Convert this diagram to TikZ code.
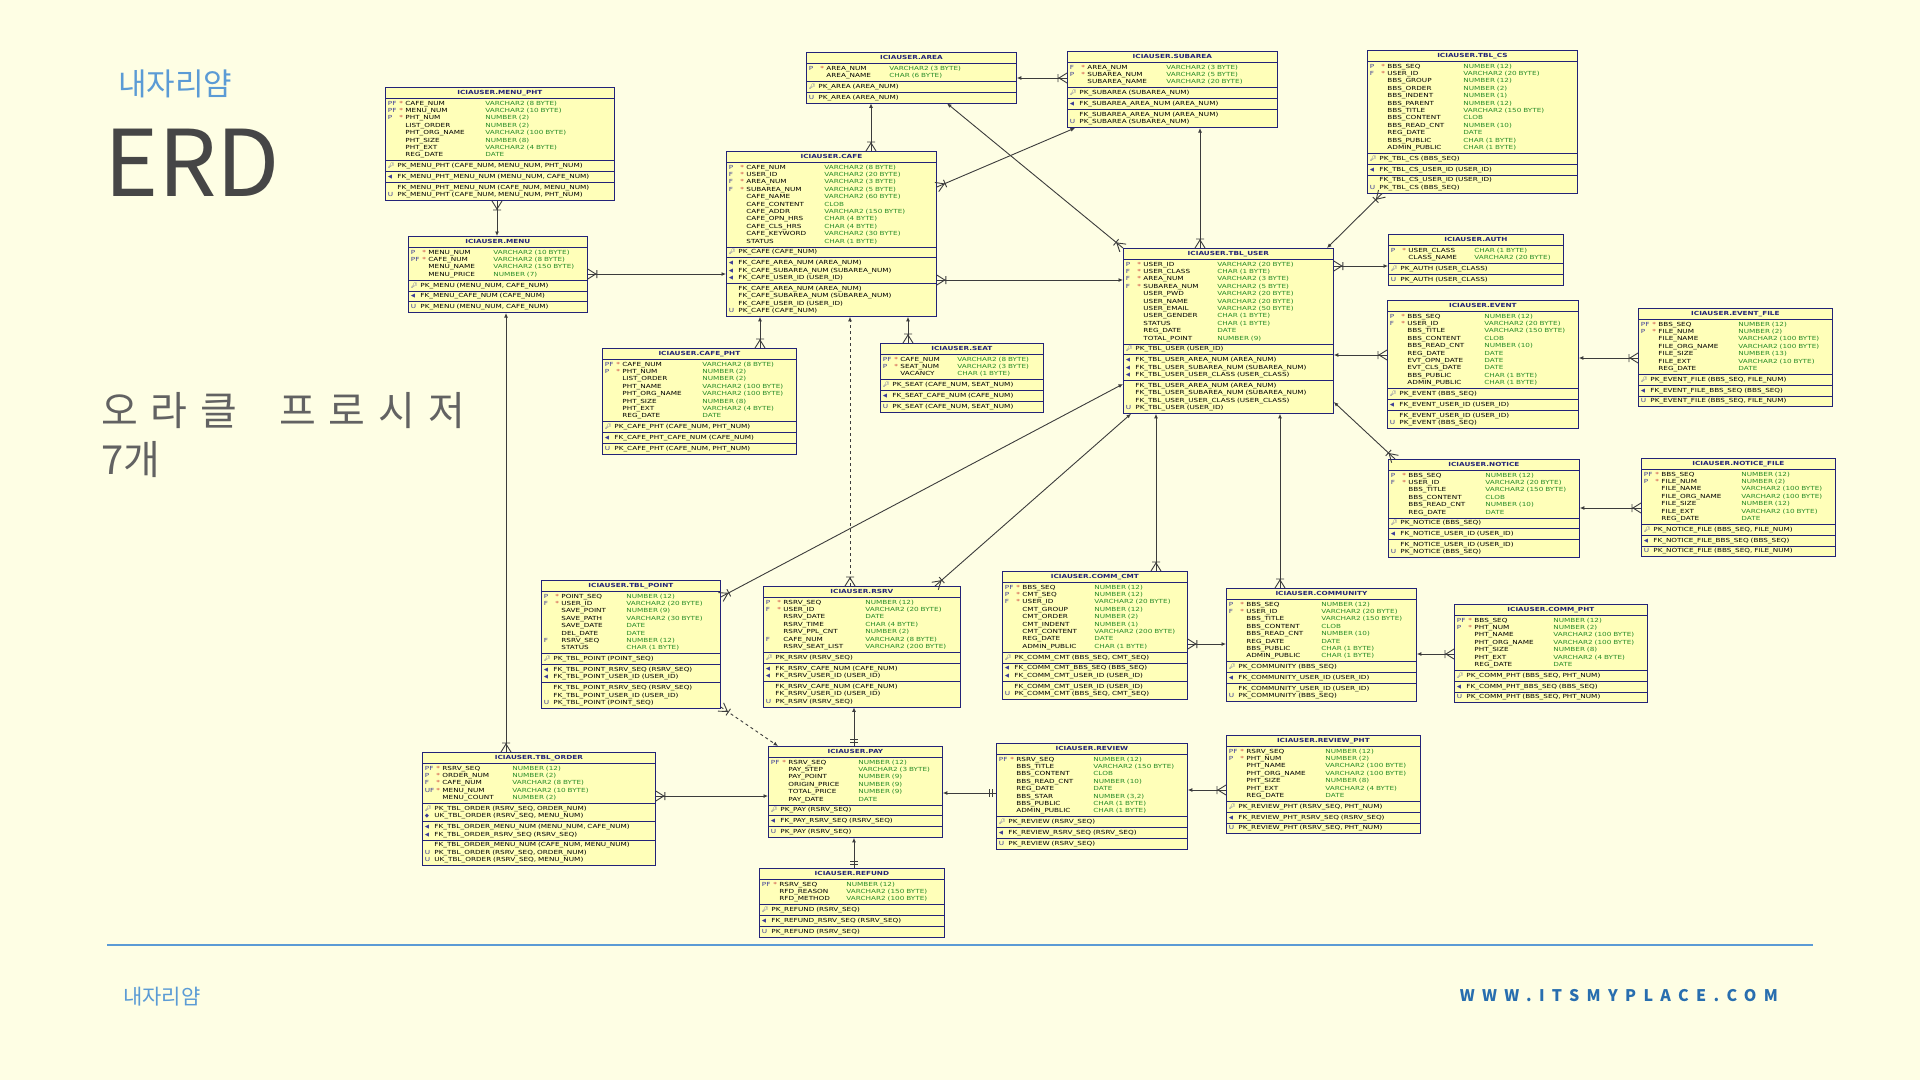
\documentclass[tikz,border=0pt]{standalone}
\usepackage{fontspec}
\newfontfamily\erdfont[FakeStretch=1.3]{DejaVu Sans}
\newfontfamily\kofont{Noto Sans CJK KR}
\newfontfamily\kospaced[LetterSpace=32]{Noto Sans CJK KR}
\newfontfamily\urlfont[LetterSpace=46]{Noto Sans CJK KR}
\newfontfamily\emojifont{Noto Emoji}
\newfontfamily\symfont{DejaVu Sans}
\usetikzlibrary{arrows.meta,calc,shapes.multipart}
\setlength\parindent{0pt}

\definecolor{pagebg}{RGB}{254,254,228}
\definecolor{tblfill}{RGB}{255,255,185}
\definecolor{tbledge}{RGB}{35,35,120}
\definecolor{typegreen}{RGB}{40,140,40}
\definecolor{keyblue}{RGB}{60,60,150}
\definecolor{starred}{RGB}{200,50,50}
\definecolor{brandblue}{RGB}{91,155,213}
\definecolor{urlblue}{RGB}{40,110,175}
\definecolor{headgray}{RGB}{70,70,70}
\definecolor{relgray}{RGB}{60,60,60}

% table rows
\newlength\erdtypex
\newcommand\erdrow[1]{\noindent\hbox to\linewidth{\strut#1\hfil}\par}
\newcommand\erdhead[1]{\noindent\hbox to\linewidth{\strut\hfil\color{tbledge}\bfseries ICIAUSER.#1\hfil}\par}
\newcommand\erdcol[4]{\erdrow{\makebox[11.5pt][l]{\color{keyblue}#1}\makebox[6pt][l]{\color{starred}#2}\makebox[\erdtypex][l]{#3}\color{typegreen}#4}}
\newcommand\pkicon{{\emojifont\fontsize{5.5}{5.5}\selectfont\color{keyblue}🔑}}
\newcommand\fkicon{{\symfont\fontsize{5.5}{5.5}\selectfont\color{keyblue}◀}}
\newcommand\ukicon{{\symfont\fontsize{5.5}{5.5}\selectfont\color{keyblue}◆}}
\newcommand\erdpk[1]{\erdrow{\makebox[9.5pt][l]{\pkicon}#1}}
\newcommand\erduk[1]{\erdrow{\makebox[9.5pt][l]{\ukicon}#1}}
\newcommand\erdfk[1]{\erdrow{\makebox[9.5pt][l]{\fkicon}#1}}
\newcommand\erdix[2][]{\erdrow{\makebox[9.5pt][l]{\color{keyblue}#1}#2}}

% relations: crow's foot at #2, arrow at #3
\newcommand\erdrel[3][]{%
  \draw[conn,#1,-{Latex[length=4.5pt,width=4pt]}] (#2) -- (#3);
  \draw[conn] ($(#2)!5pt!90:(#3)$) -- ($(#2)!8pt!(#3)$) -- ($(#2)!5pt!-90:(#3)$)
    ($(#2)!9pt!(#3)!4pt!90:(#3)$) -- ($(#2)!9pt!(#3)!4pt!-90:(#3)$);}
\newcommand\erdone[2]{%
  \draw[conn,-{Latex[length=4.5pt,width=4pt]}] (#1) -- (#2);
  \draw[conn] ($(#1)!4pt!(#2)!4pt!90:(#2)$) -- ($(#1)!4pt!(#2)!4pt!-90:(#2)$)
    ($(#1)!7pt!(#2)!4pt!90:(#2)$) -- ($(#1)!7pt!(#2)!4pt!-90:(#2)$);}

\begin{document}
\catcode`\_=12
\begin{tikzpicture}[x=1pt, y=-1pt,
  tbl/.style={rectangle split, rectangle split parts=#1, draw=tbledge, line width=0.8pt, fill=tblfill,
    anchor=north west, inner xsep=2.5pt, inner ysep=1.3pt,
    font=\erdfont\fontsize{5.6}{7.4}\selectfont, text=black!85},
  typex/.code={\setlength\erdtypex{#1}},
  conn/.style={draw=relgray, line width=0.9pt},
  head/.style={anchor=base west, inner sep=0pt}]
\fill[pagebg] (0,0) rectangle (1920,1080);
\useasboundingbox (0,0) rectangle (1920,1080);

% title block
\node[head, font=\kofont\fontsize{31}{36}\selectfont, text=brandblue] (brand) at (118,95) {내자리얌};
\node[head, font=\kofont\fontsize{92}{100}\selectfont, text=headgray] (erd) at (104,196) {ERD};
\node[head, font=\kospaced\fontsize{40}{44}\selectfont, text=headgray!85] (proc) at (101,425) {오라클\hspace{42pt}프로시저};
\node[head, font=\kofont\fontsize{40}{44}\selectfont, text=headgray!85] (cnt) at (101,474) {7개};

% tables
\node[tbl=5, typex=80pt, text width=224pt] (menupht) at (385,87) {\erdhead{MENU_PHT}
\nodepart{two}\erdcol{PF}{*}{CAFE_NUM}{VARCHAR2 (8 BYTE)}
\erdcol{PF}{*}{MENU_NUM}{VARCHAR2 (10 BYTE)}
\erdcol{P}{*}{PHT_NUM}{NUMBER (2)}
\erdcol{}{}{LIST_ORDER}{NUMBER (2)}
\erdcol{}{}{PHT_ORG_NAME}{VARCHAR2 (100 BYTE)}
\erdcol{}{}{PHT_SIZE}{NUMBER (8)}
\erdcol{}{}{PHT_EXT}{VARCHAR2 (4 BYTE)}
\erdcol{}{}{REG_DATE}{DATE}
\nodepart{three}\erdpk{PK_MENU_PHT (CAFE_NUM, MENU_NUM, PHT_NUM)}
\nodepart{four}\erdfk{FK_MENU_PHT_MENU_NUM (MENU_NUM, CAFE_NUM)}
\nodepart{five}\erdix{FK_MENU_PHT_MENU_NUM (CAFE_NUM, MENU_NUM)}
\erdix[U]{PK_MENU_PHT (CAFE_NUM, MENU_NUM, PHT_NUM)}
};

\node[tbl=5, typex=65pt, text width=174pt] (menu) at (408,236) {\erdhead{MENU}
\nodepart{two}\erdcol{P}{*}{MENU_NUM}{VARCHAR2 (10 BYTE)}
\erdcol{PF}{*}{CAFE_NUM}{VARCHAR2 (8 BYTE)}
\erdcol{}{}{MENU_NAME}{VARCHAR2 (150 BYTE)}
\erdcol{}{}{MENU_PRICE}{NUMBER (7)}
\nodepart{three}\erdpk{PK_MENU (MENU_NUM, CAFE_NUM)}
\nodepart{four}\erdfk{FK_MENU_CAFE_NUM (CAFE_NUM)}
\nodepart{five}\erdix[U]{PK_MENU (MENU_NUM, CAFE_NUM)}
};

\node[tbl=4, typex=63pt, text width=205pt] (area) at (806,52) {\erdhead{AREA}
\nodepart{two}\erdcol{P}{*}{AREA_NUM}{VARCHAR2 (3 BYTE)}
\erdcol{}{}{AREA_NAME}{CHAR (6 BYTE)}
\nodepart{three}\erdpk{PK_AREA (AREA_NUM)}
\nodepart{four}\erdix[U]{PK_AREA (AREA_NUM)}
};

\node[tbl=5, typex=78pt, text width=205pt] (cafe) at (726,151) {\erdhead{CAFE}
\nodepart{two}\erdcol{P}{*}{CAFE_NUM}{VARCHAR2 (8 BYTE)}
\erdcol{F}{*}{USER_ID}{VARCHAR2 (20 BYTE)}
\erdcol{F}{*}{AREA_NUM}{VARCHAR2 (3 BYTE)}
\erdcol{F}{*}{SUBAREA_NUM}{VARCHAR2 (5 BYTE)}
\erdcol{}{}{CAFE_NAME}{VARCHAR2 (60 BYTE)}
\erdcol{}{}{CAFE_CONTENT}{CLOB}
\erdcol{}{}{CAFE_ADDR}{VARCHAR2 (150 BYTE)}
\erdcol{}{}{CAFE_OPN_HRS}{CHAR (4 BYTE)}
\erdcol{}{}{CAFE_CLS_HRS}{CHAR (4 BYTE)}
\erdcol{}{}{CAFE_KEYWORD}{VARCHAR2 (30 BYTE)}
\erdcol{}{}{STATUS}{CHAR (1 BYTE)}
\nodepart{three}\erdpk{PK_CAFE (CAFE_NUM)}
\nodepart{four}\erdfk{FK_CAFE_AREA_NUM (AREA_NUM)}
\erdfk{FK_CAFE_SUBAREA_NUM (SUBAREA_NUM)}
\erdfk{FK_CAFE_USER_ID (USER_ID)}
\nodepart{five}\erdix{FK_CAFE_AREA_NUM (AREA_NUM)}
\erdix{FK_CAFE_SUBAREA_NUM (SUBAREA_NUM)}
\erdix{FK_CAFE_USER_ID (USER_ID)}
\erdix[U]{PK_CAFE (CAFE_NUM)}
};

\node[tbl=5, typex=79pt, text width=205pt] (subarea) at (1067,51) {\erdhead{SUBAREA}
\nodepart{two}\erdcol{F}{*}{AREA_NUM}{VARCHAR2 (3 BYTE)}
\erdcol{P}{*}{SUBAREA_NUM}{VARCHAR2 (5 BYTE)}
\erdcol{}{}{SUBAREA_NAME}{VARCHAR2 (20 BYTE)}
\nodepart{three}\erdpk{PK_SUBAREA (SUBAREA_NUM)}
\nodepart{four}\erdfk{FK_SUBAREA_AREA_NUM (AREA_NUM)}
\nodepart{five}\erdix{FK_SUBAREA_AREA_NUM (AREA_NUM)}
\erdix[U]{PK_SUBAREA (SUBAREA_NUM)}
};

\node[tbl=5, typex=74pt, text width=205pt] (tbluser) at (1123,248) {\erdhead{TBL_USER}
\nodepart{two}\erdcol{P}{*}{USER_ID}{VARCHAR2 (20 BYTE)}
\erdcol{F}{*}{USER_CLASS}{CHAR (1 BYTE)}
\erdcol{F}{*}{AREA_NUM}{VARCHAR2 (3 BYTE)}
\erdcol{F}{*}{SUBAREA_NUM}{VARCHAR2 (5 BYTE)}
\erdcol{}{}{USER_PWD}{VARCHAR2 (20 BYTE)}
\erdcol{}{}{USER_NAME}{VARCHAR2 (20 BYTE)}
\erdcol{}{}{USER_EMAIL}{VARCHAR2 (50 BYTE)}
\erdcol{}{}{USER_GENDER}{CHAR (1 BYTE)}
\erdcol{}{}{STATUS}{CHAR (1 BYTE)}
\erdcol{}{}{REG_DATE}{DATE}
\erdcol{}{}{TOTAL_POINT}{NUMBER (9)}
\nodepart{three}\erdpk{PK_TBL_USER (USER_ID)}
\nodepart{four}\erdfk{FK_TBL_USER_AREA_NUM (AREA_NUM)}
\erdfk{FK_TBL_USER_SUBAREA_NUM (SUBAREA_NUM)}
\erdfk{FK_TBL_USER_USER_CLASS (USER_CLASS)}
\nodepart{five}\erdix{FK_TBL_USER_AREA_NUM (AREA_NUM)}
\erdix{FK_TBL_USER_SUBAREA_NUM (SUBAREA_NUM)}
\erdix{FK_TBL_USER_USER_CLASS (USER_CLASS)}
\erdix[U]{PK_TBL_USER (USER_ID)}
};

\node[tbl=5, typex=76pt, text width=205pt] (tblcs) at (1367,50) {\erdhead{TBL_CS}
\nodepart{two}\erdcol{P}{*}{BBS_SEQ}{NUMBER (12)}
\erdcol{F}{*}{USER_ID}{VARCHAR2 (20 BYTE)}
\erdcol{}{}{BBS_GROUP}{NUMBER (12)}
\erdcol{}{}{BBS_ORDER}{NUMBER (2)}
\erdcol{}{}{BBS_INDENT}{NUMBER (1)}
\erdcol{}{}{BBS_PARENT}{NUMBER (12)}
\erdcol{}{}{BBS_TITLE}{VARCHAR2 (150 BYTE)}
\erdcol{}{}{BBS_CONTENT}{CLOB}
\erdcol{}{}{BBS_READ_CNT}{NUMBER (10)}
\erdcol{}{}{REG_DATE}{DATE}
\erdcol{}{}{BBS_PUBLIC}{CHAR (1 BYTE)}
\erdcol{}{}{ADMIN_PUBLIC}{CHAR (1 BYTE)}
\nodepart{three}\erdpk{PK_TBL_CS (BBS_SEQ)}
\nodepart{four}\erdfk{FK_TBL_CS_USER_ID (USER_ID)}
\nodepart{five}\erdix{FK_TBL_CS_USER_ID (USER_ID)}
\erdix[U]{PK_TBL_CS (BBS_SEQ)}
};

\node[tbl=4, typex=66pt, text width=170pt] (auth) at (1388,234) {\erdhead{AUTH}
\nodepart{two}\erdcol{P}{*}{USER_CLASS}{CHAR (1 BYTE)}
\erdcol{}{}{CLASS_NAME}{VARCHAR2 (20 BYTE)}
\nodepart{three}\erdpk{PK_AUTH (USER_CLASS)}
\nodepart{four}\erdix[U]{PK_AUTH (USER_CLASS)}
};

\node[tbl=5, typex=77pt, text width=186pt] (event) at (1387,300) {\erdhead{EVENT}
\nodepart{two}\erdcol{P}{*}{BBS_SEQ}{NUMBER (12)}
\erdcol{F}{*}{USER_ID}{VARCHAR2 (20 BYTE)}
\erdcol{}{}{BBS_TITLE}{VARCHAR2 (150 BYTE)}
\erdcol{}{}{BBS_CONTENT}{CLOB}
\erdcol{}{}{BBS_READ_CNT}{NUMBER (10)}
\erdcol{}{}{REG_DATE}{DATE}
\erdcol{}{}{EVT_OPN_DATE}{DATE}
\erdcol{}{}{EVT_CLS_DATE}{DATE}
\erdcol{}{}{BBS_PUBLIC}{CHAR (1 BYTE)}
\erdcol{}{}{ADMIN_PUBLIC}{CHAR (1 BYTE)}
\nodepart{three}\erdpk{PK_EVENT (BBS_SEQ)}
\nodepart{four}\erdfk{FK_EVENT_USER_ID (USER_ID)}
\nodepart{five}\erdix{FK_EVENT_USER_ID (USER_ID)}
\erdix[U]{PK_EVENT (BBS_SEQ)}
};

\node[tbl=5, typex=80pt, text width=189pt] (eventfile) at (1638,308) {\erdhead{EVENT_FILE}
\nodepart{two}\erdcol{PF}{*}{BBS_SEQ}{NUMBER (12)}
\erdcol{P}{*}{FILE_NUM}{NUMBER (2)}
\erdcol{}{}{FILE_NAME}{VARCHAR2 (100 BYTE)}
\erdcol{}{}{FILE_ORG_NAME}{VARCHAR2 (100 BYTE)}
\erdcol{}{}{FILE_SIZE}{NUMBER (13)}
\erdcol{}{}{FILE_EXT}{VARCHAR2 (10 BYTE)}
\erdcol{}{}{REG_DATE}{DATE}
\nodepart{three}\erdpk{PK_EVENT_FILE (BBS_SEQ, FILE_NUM)}
\nodepart{four}\erdfk{FK_EVENT_FILE_BBS_SEQ (BBS_SEQ)}
\nodepart{five}\erdix[U]{PK_EVENT_FILE (BBS_SEQ, FILE_NUM)}
};

\node[tbl=5, typex=77pt, text width=186pt] (notice) at (1388,459) {\erdhead{NOTICE}
\nodepart{two}\erdcol{P}{*}{BBS_SEQ}{NUMBER (12)}
\erdcol{F}{*}{USER_ID}{VARCHAR2 (20 BYTE)}
\erdcol{}{}{BBS_TITLE}{VARCHAR2 (150 BYTE)}
\erdcol{}{}{BBS_CONTENT}{CLOB}
\erdcol{}{}{BBS_READ_CNT}{NUMBER (10)}
\erdcol{}{}{REG_DATE}{DATE}
\nodepart{three}\erdpk{PK_NOTICE (BBS_SEQ)}
\nodepart{four}\erdfk{FK_NOTICE_USER_ID (USER_ID)}
\nodepart{five}\erdix{FK_NOTICE_USER_ID (USER_ID)}
\erdix[U]{PK_NOTICE (BBS_SEQ)}
};

\node[tbl=5, typex=80pt, text width=189pt] (noticefile) at (1641,458) {\erdhead{NOTICE_FILE}
\nodepart{two}\erdcol{PF}{*}{BBS_SEQ}{NUMBER (12)}
\erdcol{P}{*}{FILE_NUM}{NUMBER (2)}
\erdcol{}{}{FILE_NAME}{VARCHAR2 (100 BYTE)}
\erdcol{}{}{FILE_ORG_NAME}{VARCHAR2 (100 BYTE)}
\erdcol{}{}{FILE_SIZE}{NUMBER (12)}
\erdcol{}{}{FILE_EXT}{VARCHAR2 (10 BYTE)}
\erdcol{}{}{REG_DATE}{DATE}
\nodepart{three}\erdpk{PK_NOTICE_FILE (BBS_SEQ, FILE_NUM)}
\nodepart{four}\erdfk{FK_NOTICE_FILE_BBS_SEQ (BBS_SEQ)}
\nodepart{five}\erdix[U]{PK_NOTICE_FILE (BBS_SEQ, FILE_NUM)}
};

\node[tbl=5, typex=80pt, text width=189pt] (cafepht) at (602,348) {\erdhead{CAFE_PHT}
\nodepart{two}\erdcol{PF}{*}{CAFE_NUM}{VARCHAR2 (8 BYTE)}
\erdcol{P}{*}{PHT_NUM}{NUMBER (2)}
\erdcol{}{}{LIST_ORDER}{NUMBER (2)}
\erdcol{}{}{PHT_NAME}{VARCHAR2 (100 BYTE)}
\erdcol{}{}{PHT_ORG_NAME}{VARCHAR2 (100 BYTE)}
\erdcol{}{}{PHT_SIZE}{NUMBER (8)}
\erdcol{}{}{PHT_EXT}{VARCHAR2 (4 BYTE)}
\erdcol{}{}{REG_DATE}{DATE}
\nodepart{three}\erdpk{PK_CAFE_PHT (CAFE_NUM, PHT_NUM)}
\nodepart{four}\erdfk{FK_CAFE_PHT_CAFE_NUM (CAFE_NUM)}
\nodepart{five}\erdix[U]{PK_CAFE_PHT (CAFE_NUM, PHT_NUM)}
};

\node[tbl=5, typex=57pt, text width=158pt] (seat) at (880,343) {\erdhead{SEAT}
\nodepart{two}\erdcol{PF}{*}{CAFE_NUM}{VARCHAR2 (8 BYTE)}
\erdcol{P}{*}{SEAT_NUM}{VARCHAR2 (3 BYTE)}
\erdcol{}{}{VACANCY}{CHAR (1 BYTE)}
\nodepart{three}\erdpk{PK_SEAT (CAFE_NUM, SEAT_NUM)}
\nodepart{four}\erdfk{FK_SEAT_CAFE_NUM (CAFE_NUM)}
\nodepart{five}\erdix[U]{PK_SEAT (CAFE_NUM, SEAT_NUM)}
};

\node[tbl=5, typex=65pt, text width=174pt] (tblpoint) at (541,580) {\erdhead{TBL_POINT}
\nodepart{two}\erdcol{P}{*}{POINT_SEQ}{NUMBER (12)}
\erdcol{F}{*}{USER_ID}{VARCHAR2 (20 BYTE)}
\erdcol{}{}{SAVE_POINT}{NUMBER (9)}
\erdcol{}{}{SAVE_PATH}{VARCHAR2 (30 BYTE)}
\erdcol{}{}{SAVE_DATE}{DATE}
\erdcol{}{}{DEL_DATE}{DATE}
\erdcol{F}{}{RSRV_SEQ}{NUMBER (12)}
\erdcol{}{}{STATUS}{CHAR (1 BYTE)}
\nodepart{three}\erdpk{PK_TBL_POINT (POINT_SEQ)}
\nodepart{four}\erdfk{FK_TBL_POINT_RSRV_SEQ (RSRV_SEQ)}
\erdfk{FK_TBL_POINT_USER_ID (USER_ID)}
\nodepart{five}\erdix{FK_TBL_POINT_RSRV_SEQ (RSRV_SEQ)}
\erdix{FK_TBL_POINT_USER_ID (USER_ID)}
\erdix[U]{PK_TBL_POINT (POINT_SEQ)}
};

\node[tbl=5, typex=82pt, text width=192pt] (rsrv) at (763,586) {\erdhead{RSRV}
\nodepart{two}\erdcol{P}{*}{RSRV_SEQ}{NUMBER (12)}
\erdcol{F}{*}{USER_ID}{VARCHAR2 (20 BYTE)}
\erdcol{}{}{RSRV_DATE}{DATE}
\erdcol{}{}{RSRV_TIME}{CHAR (4 BYTE)}
\erdcol{}{}{RSRV_PPL_CNT}{NUMBER (2)}
\erdcol{F}{}{CAFE_NUM}{VARCHAR2 (8 BYTE)}
\erdcol{}{}{RSRV_SEAT_LIST}{VARCHAR2 (200 BYTE)}
\nodepart{three}\erdpk{PK_RSRV (RSRV_SEQ)}
\nodepart{four}\erdfk{FK_RSRV_CAFE_NUM (CAFE_NUM)}
\erdfk{FK_RSRV_USER_ID (USER_ID)}
\nodepart{five}\erdix{FK_RSRV_CAFE_NUM (CAFE_NUM)}
\erdix{FK_RSRV_USER_ID (USER_ID)}
\erdix[U]{PK_RSRV (RSRV_SEQ)}
};

\node[tbl=5, typex=72pt, text width=180pt] (commcmt) at (1002,571) {\erdhead{COMM_CMT}
\nodepart{two}\erdcol{PF}{*}{BBS_SEQ}{NUMBER (12)}
\erdcol{P}{*}{CMT_SEQ}{NUMBER (12)}
\erdcol{F}{*}{USER_ID}{VARCHAR2 (20 BYTE)}
\erdcol{}{}{CMT_GROUP}{NUMBER (12)}
\erdcol{}{}{CMT_ORDER}{NUMBER (2)}
\erdcol{}{}{CMT_INDENT}{NUMBER (1)}
\erdcol{}{}{CMT_CONTENT}{VARCHAR2 (200 BYTE)}
\erdcol{}{}{REG_DATE}{DATE}
\erdcol{}{}{ADMIN_PUBLIC}{CHAR (1 BYTE)}
\nodepart{three}\erdpk{PK_COMM_CMT (BBS_SEQ, CMT_SEQ)}
\nodepart{four}\erdfk{FK_COMM_CMT_BBS_SEQ (BBS_SEQ)}
\erdfk{FK_COMM_CMT_USER_ID (USER_ID)}
\nodepart{five}\erdix{FK_COMM_CMT_USER_ID (USER_ID)}
\erdix[U]{PK_COMM_CMT (BBS_SEQ, CMT_SEQ)}
};

\node[tbl=5, typex=75pt, text width=185pt] (community) at (1226,588) {\erdhead{COMMUNITY}
\nodepart{two}\erdcol{P}{*}{BBS_SEQ}{NUMBER (12)}
\erdcol{F}{*}{USER_ID}{VARCHAR2 (20 BYTE)}
\erdcol{}{}{BBS_TITLE}{VARCHAR2 (150 BYTE)}
\erdcol{}{}{BBS_CONTENT}{CLOB}
\erdcol{}{}{BBS_READ_CNT}{NUMBER (10)}
\erdcol{}{}{REG_DATE}{DATE}
\erdcol{}{}{BBS_PUBLIC}{CHAR (1 BYTE)}
\erdcol{}{}{ADMIN_PUBLIC}{CHAR (1 BYTE)}
\nodepart{three}\erdpk{PK_COMMUNITY (BBS_SEQ)}
\nodepart{four}\erdfk{FK_COMMUNITY_USER_ID (USER_ID)}
\nodepart{five}\erdix{FK_COMMUNITY_USER_ID (USER_ID)}
\erdix[U]{PK_COMMUNITY (BBS_SEQ)}
};

\node[tbl=5, typex=79pt, text width=188pt] (commpht) at (1454,604) {\erdhead{COMM_PHT}
\nodepart{two}\erdcol{PF}{*}{BBS_SEQ}{NUMBER (12)}
\erdcol{P}{*}{PHT_NUM}{NUMBER (2)}
\erdcol{}{}{PHT_NAME}{VARCHAR2 (100 BYTE)}
\erdcol{}{}{PHT_ORG_NAME}{VARCHAR2 (100 BYTE)}
\erdcol{}{}{PHT_SIZE}{NUMBER (8)}
\erdcol{}{}{PHT_EXT}{VARCHAR2 (4 BYTE)}
\erdcol{}{}{REG_DATE}{DATE}
\nodepart{three}\erdpk{PK_COMM_PHT (BBS_SEQ, PHT_NUM)}
\nodepart{four}\erdfk{FK_COMM_PHT_BBS_SEQ (BBS_SEQ)}
\nodepart{five}\erdix[U]{PK_COMM_PHT (BBS_SEQ, PHT_NUM)}
};

\node[tbl=5, typex=70pt, text width=228pt] (tblorder) at (422,752) {\erdhead{TBL_ORDER}
\nodepart{two}\erdcol{PF}{*}{RSRV_SEQ}{NUMBER (12)}
\erdcol{P}{*}{ORDER_NUM}{NUMBER (2)}
\erdcol{F}{*}{CAFE_NUM}{VARCHAR2 (8 BYTE)}
\erdcol{UF}{*}{MENU_NUM}{VARCHAR2 (10 BYTE)}
\erdcol{}{}{MENU_COUNT}{NUMBER (2)}
\nodepart{three}\erdpk{PK_TBL_ORDER (RSRV_SEQ, ORDER_NUM)}
\erduk{UK_TBL_ORDER (RSRV_SEQ, MENU_NUM)}
\nodepart{four}\erdfk{FK_TBL_ORDER_MENU_NUM (MENU_NUM, CAFE_NUM)}
\erdfk{FK_TBL_ORDER_RSRV_SEQ (RSRV_SEQ)}
\nodepart{five}\erdix{FK_TBL_ORDER_MENU_NUM (CAFE_NUM, MENU_NUM)}
\erdix[U]{PK_TBL_ORDER (RSRV_SEQ, ORDER_NUM)}
\erdix[U]{UK_TBL_ORDER (RSRV_SEQ, MENU_NUM)}
};

\node[tbl=5, typex=70pt, text width=169pt] (pay) at (768,746) {\erdhead{PAY}
\nodepart{two}\erdcol{PF}{*}{RSRV_SEQ}{NUMBER (12)}
\erdcol{}{}{PAY_STEP}{VARCHAR2 (3 BYTE)}
\erdcol{}{}{PAY_POINT}{NUMBER (9)}
\erdcol{}{}{ORIGIN_PRICE}{NUMBER (9)}
\erdcol{}{}{TOTAL_PRICE}{NUMBER (9)}
\erdcol{}{}{PAY_DATE}{DATE}
\nodepart{three}\erdpk{PK_PAY (RSRV_SEQ)}
\nodepart{four}\erdfk{FK_PAY_RSRV_SEQ (RSRV_SEQ)}
\nodepart{five}\erdix[U]{PK_PAY (RSRV_SEQ)}
};

\node[tbl=5, typex=77pt, text width=186pt] (review) at (996,743) {\erdhead{REVIEW}
\nodepart{two}\erdcol{PF}{*}{RSRV_SEQ}{NUMBER (12)}
\erdcol{}{}{BBS_TITLE}{VARCHAR2 (150 BYTE)}
\erdcol{}{}{BBS_CONTENT}{CLOB}
\erdcol{}{}{BBS_READ_CNT}{NUMBER (10)}
\erdcol{}{}{REG_DATE}{DATE}
\erdcol{}{}{BBS_STAR}{NUMBER (3,2)}
\erdcol{}{}{BBS_PUBLIC}{CHAR (1 BYTE)}
\erdcol{}{}{ADMIN_PUBLIC}{CHAR (1 BYTE)}
\nodepart{three}\erdpk{PK_REVIEW (RSRV_SEQ)}
\nodepart{four}\erdfk{FK_REVIEW_RSRV_SEQ (RSRV_SEQ)}
\nodepart{five}\erdix[U]{PK_REVIEW (RSRV_SEQ)}
};

\node[tbl=5, typex=79pt, text width=189pt] (reviewpht) at (1226,735) {\erdhead{REVIEW_PHT}
\nodepart{two}\erdcol{PF}{*}{RSRV_SEQ}{NUMBER (12)}
\erdcol{P}{*}{PHT_NUM}{NUMBER (2)}
\erdcol{}{}{PHT_NAME}{VARCHAR2 (100 BYTE)}
\erdcol{}{}{PHT_ORG_NAME}{VARCHAR2 (100 BYTE)}
\erdcol{}{}{PHT_SIZE}{NUMBER (8)}
\erdcol{}{}{PHT_EXT}{VARCHAR2 (4 BYTE)}
\erdcol{}{}{REG_DATE}{DATE}
\nodepart{three}\erdpk{PK_REVIEW_PHT (RSRV_SEQ, PHT_NUM)}
\nodepart{four}\erdfk{FK_REVIEW_PHT_RSRV_SEQ (RSRV_SEQ)}
\nodepart{five}\erdix[U]{PK_REVIEW_PHT (RSRV_SEQ, PHT_NUM)}
};

\node[tbl=5, typex=67pt, text width=180pt] (refund) at (759,868) {\erdhead{REFUND}
\nodepart{two}\erdcol{PF}{*}{RSRV_SEQ}{NUMBER (12)}
\erdcol{}{}{RFD_REASON}{VARCHAR2 (150 BYTE)}
\erdcol{}{}{RFD_METHOD}{VARCHAR2 (100 BYTE)}
\nodepart{three}\erdpk{PK_REFUND (RSRV_SEQ)}
\nodepart{four}\erdfk{FK_REFUND_RSRV_SEQ (RSRV_SEQ)}
\nodepart{five}\erdix[U]{PK_REFUND (RSRV_SEQ)}
};

% relations
\erdrel{497,0 |- menupht.south}{497,0 |- menu.north}
\erdrel{menu.east |- 0,274}{cafe.west |- 0,274}
\erdrel{871,0 |- cafe.north}{871,0 |- area.south}
\erdrel{subarea.west |- 0,78}{area.east |- 0,78}
\erdrel{cafe.east |- 0,187}{1075,0 |- subarea.south}
\erdrel{cafe.east |- 0,280}{tbluser.west |- 0,280}
\erdrel{tbluser.north west}{947,0 |- area.south}
\erdrel{1200,0 |- tbluser.north}{1200,0 |- subarea.south}
\erdrel{1382,0 |- tblcs.south}{1327,0 |- tbluser.north}
\erdrel{tbluser.east |- 0,266}{auth.west |- 0,266}
\erdrel{event.west |- 0,355}{tbluser.east |- 0,355}
\erdrel{eventfile.west |- 0,358}{event.east |- 0,358}
\erdrel{1395,0 |- notice.north}{tbluser.east |- 0,402}
\erdrel{noticefile.west |- 0,508}{notice.east |- 0,508}
\erdrel{760,0 |- cafepht.north}{760,0 |- cafe.south}
\erdrel{908,0 |- seat.north}{908,0 |- cafe.south}
\erdrel[dashed]{850,0 |- rsrv.north}{850,0 |- cafe.south}
\erdrel{tblpoint.east |- 0,597}{tbluser.west |- 0,384}
\erdrel{935,0 |- rsrv.north}{1131,0 |- tbluser.south}
\erdrel[dashed]{tblpoint.east |- 0,707}{778,0 |- pay.north}
\erdrel{1156,0 |- commcmt.north}{1156,0 |- tbluser.south}
\erdrel{1280,0 |- community.north}{1280,0 |- tbluser.south}
\erdrel{commcmt.east |- 0,644}{community.west |- 0,644}
\erdrel{commpht.west |- 0,654}{community.east |- 0,654}
\erdrel{506,0 |- tblorder.north}{506,0 |- menu.south}
\erdrel{tblorder.east |- 0,796}{pay.west |- 0,796}
\erdone{854,0 |- pay.north}{854,0 |- rsrv.south}
\erdone{854,0 |- refund.north}{854,0 |- pay.south}
\erdone{review.west |- 0,793}{pay.east |- 0,793}
\erdrel{reviewpht.west |- 0,790}{review.east |- 0,790}

% footer
\draw[brandblue, line width=1.3pt] (107,945) -- (1813,945);
\node[head, font=\kofont\fontsize{21}{24}\selectfont, text=brandblue] (foot) at (123,1004) {내자리얌};
\node[head, anchor=base east, font=\urlfont\bfseries\fontsize{16}{20}\selectfont, text=urlblue] (url) at (1778,1001) {WWW.ITSMYPLACE.COM};
\end{tikzpicture}
\end{document}
